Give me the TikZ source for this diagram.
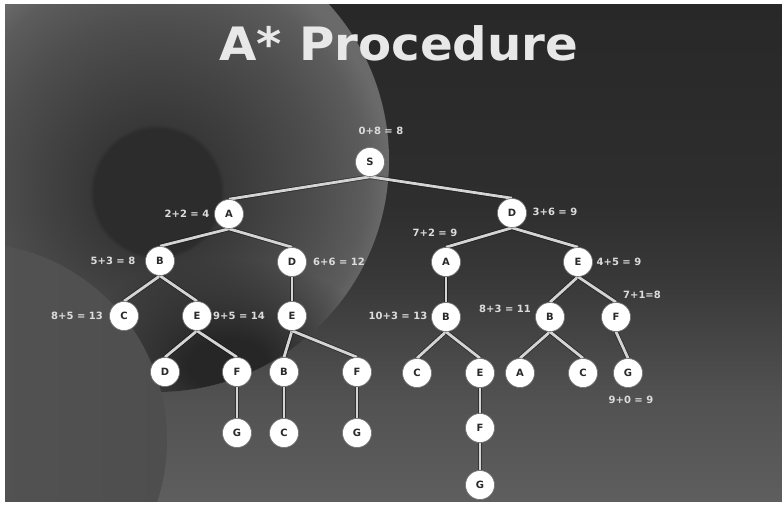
\documentclass[tikz,border=0pt]{standalone}
\usepackage{fontspec}
\usepackage{graphicx}
\setmainfont{DejaVu Sans}
\usetikzlibrary{fadings}
\definecolor{dk0}{HTML}{2C2C2C}
\definecolor{dk1}{HTML}{383838}
\definecolor{dk2}{HTML}{434343}
\definecolor{dk3}{HTML}{4E4E4E}
\definecolor{dk4}{HTML}{5C5C5C}
\definecolor{dk5}{HTML}{6A6A6A}
\definecolor{bga}{HTML}{5E5E5E}
\definecolor{bgb}{HTML}{525252}
\definecolor{bgc}{HTML}{383838}
\definecolor{bge}{HTML}{2E2E2E}
\definecolor{bgd}{HTML}{282828}
\definecolor{leftdisk}{HTML}{4E4E4E}
\definecolor{leftdiskb}{HTML}{575757}
\definecolor{blobcol}{HTML}{262626}
\definecolor{edgecol}{HTML}{D4D4D4}
\definecolor{lbltext}{HTML}{DCDCDC}
\definecolor{nodetext}{HTML}{2A2A2A}
\definecolor{titlecol}{HTML}{E8E8E8}
\pgfdeclareverticalshading{slidebg}{100bp}{color(0bp)=(bga); color(25bp)=(bga); color(35bp)=(bgb); color(47.5bp)=(bgc); color(55bp)=(bge); color(75bp)=(bgd); color(100bp)=(bgd)}
\pgfdeclareradialshading{bigdisk}{\pgfpoint{0bp}{-4bp}}{color(0bp)=(dk0); color(6.8bp)=(dk0); color(7.3bp)=(dk1); color(12.5bp)=(dk2); color(17.5bp)=(dk3); color(22.5bp)=(dk4); color(25bp)=(dk5); color(50bp)=(dk5)}
\pgfdeclareradialshading{blobfade}{\pgfpoint{0bp}{0bp}}{color(0bp)=(white); color(6bp)=(white); color(25bp)=(black); color(50bp)=(black)}
\pgfdeclarefading{softblob}{\pgfuseshading{blobfade}}
\pgfdeclarelayer{bg}
\pgfdeclarelayer{edges}
\pgfsetlayers{bg,edges,main}
\begin{document}
\begin{tikzpicture}[x=1pt,y=-1pt,
  nd/.style={circle, fill=white, draw=black!55, line width=0.6pt, minimum size=29pt, inner sep=0pt, font=\fontsize{10}{10}\selectfont\bfseries, text=nodetext},
  lbl/.style={font=\fontsize{10}{12}\selectfont\bfseries, text=lbltext, inner sep=0pt},
  edgeline/.style={draw=edgecol, line width=2.8pt},
  edgeshadow/.style={draw=black, line width=4.4pt, opacity=0.4},
  titlestyle/.style={font=\fontsize{46}{46}\selectfont\bfseries, inner sep=0pt, anchor=base}]
\useasboundingbox (0,0) rectangle (782,506);
\begin{pgfonlayer}{bg}
  \fill[white] (0,0) rectangle (782,506);
  \shade[shading=slidebg] (5,4) rectangle (782,501);
  \begin{scope}
    \clip (5,4) rectangle (782,501);
    \shade[shading=bigdisk] (157,160) circle (232);
    \begin{scope}
      \clip (157,160) circle (232);
      \fill[blobcol, path fading=softblob] (228,365) ellipse (160 and 105);
    \end{scope}
    \shade[left color=leftdiskb, right color=leftdisk] (-30,440) circle (197);
  \end{scope}
  \node[titlestyle, text=titlecol] (title) at (399,60) {\scalebox{1.05}[1]{A* Procedure}};
\end{pgfonlayer}

% nodes
\node[nd] (S)   at (370,162) {S};
\node[nd] (A1)  at (229,214) {A};
\node[nd] (D1)  at (512,213) {D};
\node[nd] (B2)  at (160,261) {B};
\node[nd] (D2)  at (292,262) {D};
\node[nd] (A2)  at (446,262) {A};
\node[nd] (E2)  at (578,262) {E};
\node[nd] (C3)  at (124,316) {C};
\node[nd] (E3a) at (197,316) {E};
\node[nd] (E3b) at (292,316) {E};
\node[nd] (B3a) at (446,317) {B};
\node[nd] (B3b) at (550,317) {B};
\node[nd] (F3)  at (616,317) {F};
\node[nd] (D4)  at (165,372) {D};
\node[nd] (F4a) at (237,372) {F};
\node[nd] (B4)  at (284,372) {B};
\node[nd] (F4b) at (357,372) {F};
\node[nd] (C4a) at (417,373) {C};
\node[nd] (E4)  at (480,373) {E};
\node[nd] (A4)  at (520,373) {A};
\node[nd] (C4b) at (583,373) {C};
\node[nd] (G4)  at (628,373) {G};
\node[nd] (G5a) at (237,433) {G};
\node[nd] (C5)  at (284,433) {C};
\node[nd] (G5b) at (357,433) {G};
\node[nd] (F5)  at (480,428) {F};
\node[nd] (G6)  at (480,485) {G};

% labels
\node[lbl] (lS)   at (381,131) {0+8 = 8};
\node[lbl] (lA1)  at (187,214) {2+2 = 4};
\node[lbl] (lD1)  at (555,212) {3+6 = 9};
\node[lbl] (lB2)  at (113,261) {5+3 = 8};
\node[lbl] (lD2)  at (339,262) {6+6 = 12};
\node[lbl] (lA2)  at (435,233) {7+2 = 9};
\node[lbl] (lE2)  at (619,262) {4+5 = 9};
\node[lbl] (lC3)  at (77,316) {8+5 = 13};
\node[lbl] (lE3a) at (239,316) {9+5 = 14};
\node[lbl] (lB3a) at (398,316) {10+3 = 13};
\node[lbl] (lB3b) at (505,309) {8+3 = 11};
\node[lbl] (lF3)  at (642,295) {7+1=8};
\node[lbl] (lG4)  at (631,400) {9+0 = 9};

% edges
\begin{pgfonlayer}{edges}
\foreach \p/\c in {S/A1,S/D1,A1/B2,A1/D2,B2/C3,B2/E3a,D2/E3b,E3a/D4,E3a/F4a,E3b/B4,E3b/F4b,F4a/G5a,B4/C5,F4b/G5b,D1/A2,D1/E2,A2/B3a,B3a/C4a,B3a/E4,E4/F5,F5/G6,E2/B3b,E2/F3,B3b/A4,B3b/C4b,F3/G4}{
  \draw[edgeshadow] (\p.south) -- (\c.north);
  \draw[edgeline] (\p.south) -- (\c.north);
}
\end{pgfonlayer}
\end{tikzpicture}
\end{document}
